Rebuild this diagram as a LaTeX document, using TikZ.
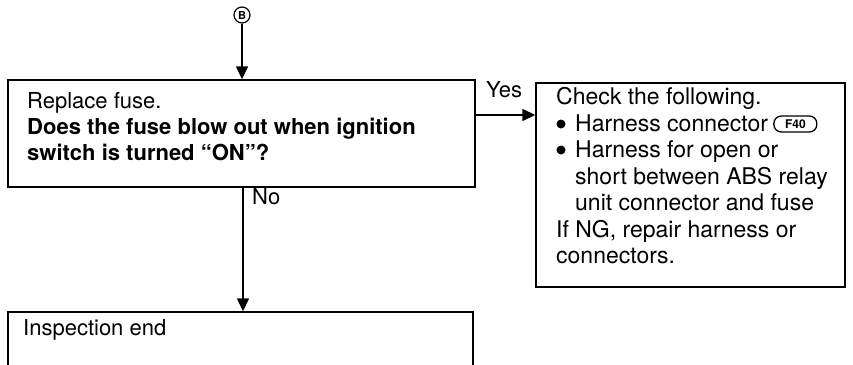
\documentclass[tikz,border=0pt]{standalone}
\usepackage{fontspec}
\setmainfont{TeX Gyre Heros}
\usetikzlibrary{arrows.meta}
\begin{document}
\begin{tikzpicture}[x=1pt,y=-1pt,
  box/.style={draw,line width=1.4pt,inner sep=0pt,rectangle},
  txt/.style={inner sep=0pt,anchor=base west,font=\fontsize{22}{26.5}\selectfont},
  rtxt/.style={txt,font=\fontsize{23}{26.5}\selectfont},
  btxt/.style={txt,font=\fontsize{22}{26.5}\selectfont\bfseries},
  arr/.style={line width=1.4pt,-{Triangle[length=13pt,width=12pt]}},
  dot/.style={circle,fill,inner sep=0pt,minimum size=9pt},
  pill/.style={draw,line width=1.3pt,rounded corners=7.5pt,inner sep=0pt,minimum width=43pt,minimum height=16pt,font=\fontsize{12}{12}\selectfont\bfseries},
  circ/.style={draw,circle,line width=1.2pt,inner sep=0pt,minimum size=16pt,font=\fontsize{11}{11}\selectfont\bfseries}]
\clip (0,0) rectangle (853,364);
% connector symbol B
\node[circ] (B) at (242,15) {B};
% question box
\node[box,minimum width=467pt,minimum height=107pt] (q) at (241.5,133.5) {};
\node[txt] (q1) at (27,108) {Replace fuse.};
\node[btxt] (q2) at (27,134) {Does the fuse blow out when ignition};
\node[btxt] (q3) at (27,160) {switch is turned “ON”?};
% check box
\node[box,minimum width=309pt,minimum height=204pt] (c) at (690.5,185) {};
\node[rtxt] (c1) at (556,104) {Check the following.};
\node[dot] (d1) at (561,124) {};
\node[rtxt] (c2) at (575,131) {Harness connector};
\node[pill,anchor=west] (f40) at ([xshift=5pt,yshift=7pt]c2.base east) {F40};
\node[dot] (d2) at (561,150) {};
\node[rtxt] (c3) at (575,157) {Harness for open or};
\node[rtxt] (c4) at (575,184) {short between ABS relay};
\node[rtxt] (c5) at (575,210) {unit connector and fuse};
\node[rtxt] (c6) at (556,237) {If NG, repair harness or};
\node[rtxt] (c7) at (556,263) {connectors.};
% end box
\node[box,minimum width=465pt,minimum height=80pt] (e) at (240.5,352) {};
\node[txt] (e1) at (23,335) {Inspection end};
% labels
\node[txt] (yes) at (486,97) {Yes};
\node[txt] (no) at (252,204) {No};
\coordinate (ya) at (475,115);
\coordinate (xa) at (243,0);
% connectors
\draw[arr] (B.south) -- (B.south |- q.north);
\draw[arr] (q.east |- ya) -- (c.west |- ya);
\draw[arr] (q.south -| xa) -- (e.north -| xa);
\end{tikzpicture}
\end{document}
